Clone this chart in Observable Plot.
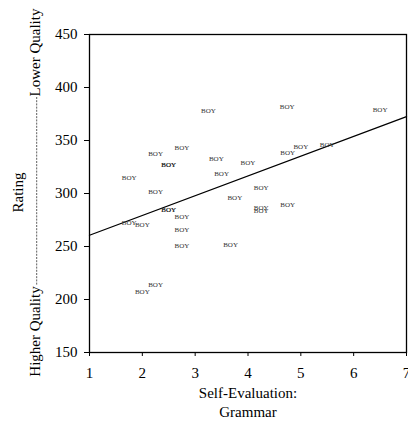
<!DOCTYPE html>
<html>
<head>
<meta charset="utf-8">
<script src="https://cdn.jsdelivr.net/npm/d3@7"></script>
<script src="https://cdn.jsdelivr.net/npm/@observablehq/plot@0.6"></script>
<style>
  html, body { margin: 0; padding: 0; background: #fff; font-family: 'Liberation Serif', serif; }
  svg text { font-family: 'Liberation Serif', serif; }
</style>
</head>
<body>
<div id="chart"></div>
<script>
// Self-evaluation (grammar) score of each student
const selfEval = [3.25, 4.74, 6.5, 2.75, 2.25, 2.5, 2.5, 3.4, 4.0, 4.75, 5.0, 5.5, 3.5, 1.75, 2.25,
                  3.75, 4.25, 2.5, 2.5, 2.75, 4.25, 4.25, 4.75, 1.75, 2.0, 2.75, 2.75, 3.67, 2.25, 2.0];
// Rating of each student
const rating = [377.6, 381.4, 378.9, 343.6, 337.3, 327, 327, 332.6, 328.8, 338.9, 344.2, 346.1, 318.5, 315.3, 301.7,
                295.8, 305.8, 284.7, 284.7, 278.1, 286.9, 283.5, 289.2, 272.8, 270.3, 265.6, 250.8, 251.4, 213.6, 207.3];
const pointLabel = "BOY";
const xTicks = [1, 2, 3, 4, 5, 6, 7];
const yTicks = [150, 200, 250, 300, 350, 400, 450];
const xTitle = "Self-Evaluation:\nGrammar";
const yTitle = "Rating";
const yTopNote = "Lower Quality";
const yBottomNote = "Higher Quality";

const points = selfEval.map((x, i) => ({x, y: rating[i], label: pointLabel}));

// least-squares fit, drawn across the full x domain
const mx = d3.mean(selfEval), my = d3.mean(rating);
const slope = d3.sum(points, d => (d.x - mx) * (d.y - my)) / d3.sum(points, d => (d.x - mx) ** 2);
const intercept = my - slope * mx;
const xDomain = d3.extent(xTicks);
const fit = xDomain.map(x => ({x, y: intercept + slope * x}));

const W = 408, H = 425, ML = 89, MR = 2, MT = 34, MB = 73;
const font = "'Liberation Serif', serif";

const plot = Plot.plot({
  width: W, height: H,
  marginLeft: ML, marginRight: MR, marginTop: MT, marginBottom: MB,
  style: {fontFamily: font, fontSize: "15px", color: "#000", background: "#fff"},
  x: {domain: xDomain},
  y: {domain: d3.extent(yTicks)},
  marks: [
    Plot.axisX({ticks: xTicks, tickSize: 4, tickPadding: 11, fontSize: 15, fontFamily: font, label: null, tickFormat: d => String(d)}),
    Plot.axisY({ticks: yTicks, tickSize: 5, tickPadding: 7, fontSize: 15, fontFamily: font, label: null, tickFormat: d => String(d)}),
    Plot.frame({stroke: "#000", strokeWidth: 1.3}),
    Plot.line(fit, {x: "x", y: "y", stroke: "#000", strokeWidth: 1.3}),
    Plot.text(points, {x: "x", y: "y", text: "label", fontSize: 7, fontFamily: font, fill: "#333"}),
    Plot.text([xTitle], {frameAnchor: "bottom", lineAnchor: "middle", dy: 49, fontSize: 15, fontFamily: font, lineHeight: 1.22, fill: "#000"}),
    Plot.text([yTitle], {frameAnchor: "left", textAnchor: "middle", lineAnchor: "middle", rotate: -90, dx: -71, dy: -1, fontSize: 15, fontFamily: font, fill: "#000"}),
    Plot.text([yTopNote], {frameAnchor: "left", textAnchor: "middle", lineAnchor: "middle", rotate: -90, dx: -54, dy: -141, fontSize: 15, fontFamily: font, fill: "#000"}),
    Plot.text([yBottomNote], {frameAnchor: "left", textAnchor: "middle", lineAnchor: "middle", rotate: -90, dx: -54, dy: 138, fontSize: 15, fontFamily: font, fill: "#000"})
  ]
});

// dashed connector between the two quality notes
d3.select(plot).append("line")
  .attr("x1", ML - 52.3).attr("x2", ML - 52.3)
  .attr("y1", MT + 63).attr("y2", MT + 251)
  .attr("stroke", "#333").attr("stroke-width", 0.8).attr("stroke-dasharray", "2,1.2");

document.getElementById("chart").append(plot);
</script>
</body>
</html>
